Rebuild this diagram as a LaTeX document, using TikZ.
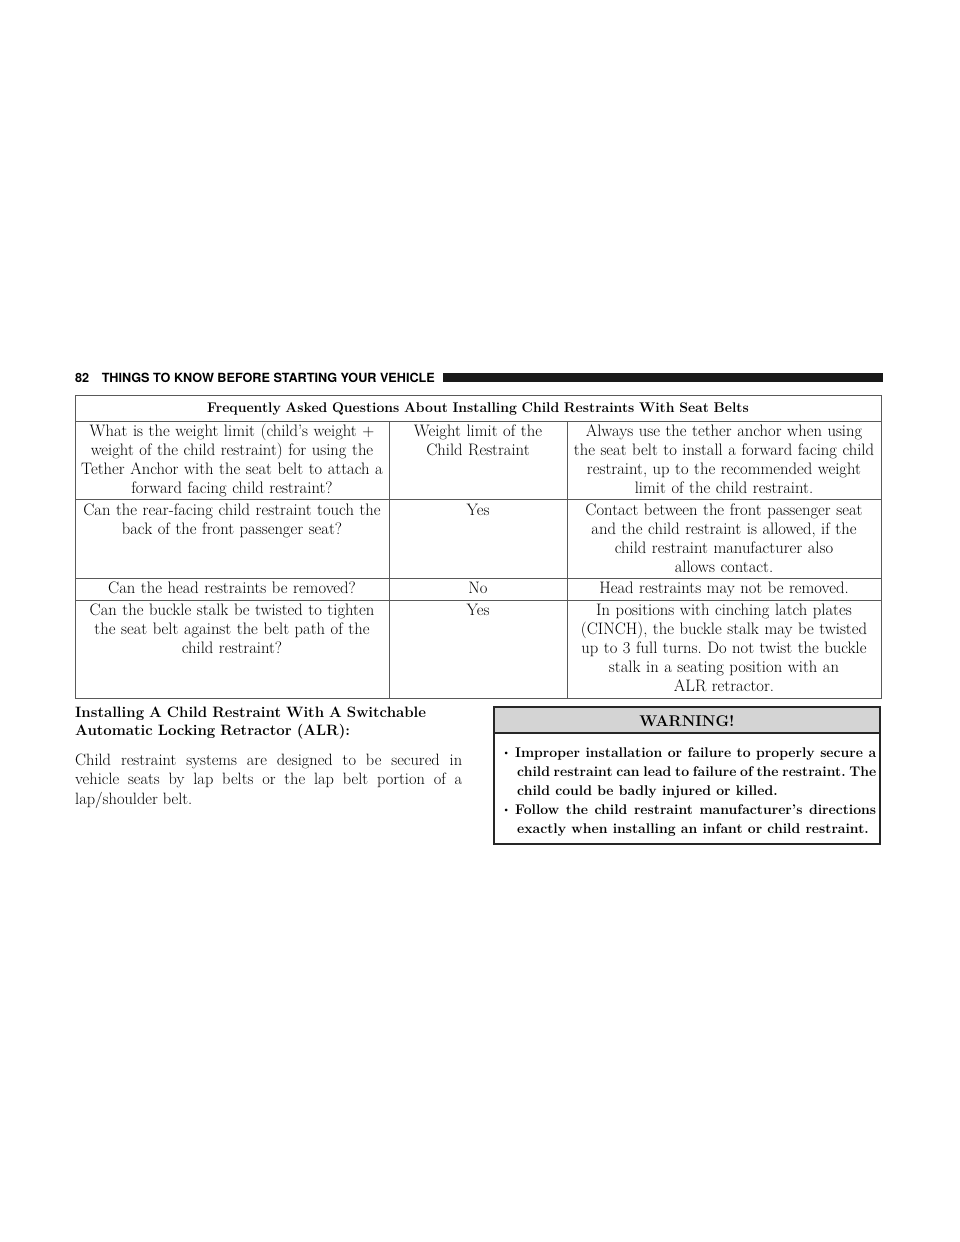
\documentclass[tikz,border=0pt]{standalone}
\usepackage{fontspec}
\setsansfont{TeX Gyre Heros}
\usetikzlibrary{positioning}
\frenchspacing

\begin{document}
\begin{tikzpicture}
[x=1pt,y=-1pt,
 rule/.style={draw=black!65,line width=0.9pt},
 cell/.style={inner sep=0pt,align=center,anchor=base,font=\fontsize{16.6}{19}\selectfont},
 body/.style={inner sep=0pt,anchor=base west,align=justify,font=\fontsize{16.4}{19.5}\selectfont},
 warnbody/.style={body,font=\bfseries\fontsize{14}{19}\selectfont,text width=374pt}]

\useasboundingbox (0,0) rectangle (960,1242);

% running head
\node[inner sep=0pt,anchor=base west,font=\sffamily\bfseries\fontsize{12.65}{14}\selectfont] (runhead) at (75,382) {82\hspace{12.5pt}THINGS TO KNOW BEFORE STARTING YOUR VEHICLE};
\fill[black!90] (443,373) rectangle (883,382);

% table
\draw[rule] (75,395) rectangle (881,698);
\foreach \y in {421,499,578,600}
\draw[rule] (75,\y) -- (881,\y);
\foreach \x in {389,567}
\draw[rule] (\x,421) -- (\x,698);

\node[cell,font=\bfseries\fontsize{14}{19}\selectfont,text width=800pt] (title) at (478,412) {Frequently Asked Questions About Installing Child Restraints With Seat Belts};

\node[cell,text width=310pt] (q1) at (232,436) {What is the weight limit (child's weight +\\weight of the child restraint) for using the\\Tether Anchor with the seat belt to attach a\\forward facing child restraint?};
\node[cell,text width=176pt] (a1) at (478,436) {Weight limit of the\\Child Restraint};
\node[cell,text width=312pt] (n1) at (724,436) {Always use the tether anchor when using\\the seat belt to install a forward facing child\\restraint, up to the recommended weight\\limit of the child restraint.};

\node[cell,text width=310pt] (q2) at (232,515) {Can the rear-facing child restraint touch the\\back of the front passenger seat?};
\node[cell,text width=176pt] (a2) at (478,515) {Yes};
\node[cell,text width=312pt] (n2) at (724,515) {Contact between the front passenger seat\\and the child restraint is allowed, if the\\child restraint manufacturer also\\allows contact.};

\node[cell,text width=310pt] (q3) at (232,593) {Can the head restraints be removed?};
\node[cell,text width=176pt] (a3) at (478,593) {No};
\node[cell,text width=312pt] (n3) at (724,593) {Head restraints may not be removed.};

\node[cell,text width=310pt] (q4) at (232,615) {Can the buckle stalk be twisted to tighten\\the seat belt against the belt path of the\\child restraint?};
\node[cell,text width=176pt] (a4) at (478,615) {Yes};
\node[cell,text width=312pt] (n4) at (724,615) {In positions with cinching latch plates\\(CINCH), the buckle stalk may be twisted\\up to 3 full turns. Do not twist the buckle\\stalk in a seating position with an\\ALR retractor.};

% text column
\node[body,align=left,font=\bfseries\fontsize{15}{18.5}\selectfont,text width=400pt] (alrhead) at (75,717) {Installing A Child Restraint With A Switchable\\Automatic Locking Retractor (ALR):};
\node[body,text width=387pt] (alrtext) at (75,765) {Child restraint systems are designed to be secured in\linebreak vehicle seats by lap belts or the lap belt portion of a\linebreak lap/shoulder belt.};

% warning box
\fill[black!17] (494,707) rectangle (880,733);
\draw[black!85,line width=1.4pt] (494,707) rectangle (880,844);
\draw[black!85,line width=2pt] (494,733) -- (880,733);
\node[cell,font=\bfseries\fontsize{15.5}{19}\selectfont] (warn) at (687,726) {WARNING!};
\node[warnbody] (warn1) at (502,757) {%
\hangindent=15pt\hangafter=1\makebox[13pt][l]{\raisebox{1.8pt}{\fontsize{9}{9}\selectfont\textbullet}}Improper installation or failure to properly secure a\linebreak child restraint can lead to failure of the restraint. The\linebreak child could be badly injured or killed.\par};
\node[warnbody] (warn2) at (502,814) {%
\hangindent=15pt\hangafter=1\makebox[13pt][l]{\raisebox{1.8pt}{\fontsize{9}{9}\selectfont\textbullet}}Follow the child restraint manufacturer's directions\linebreak exactly when installing an infant or child restraint.\par};

\end{tikzpicture}
\end{document}
